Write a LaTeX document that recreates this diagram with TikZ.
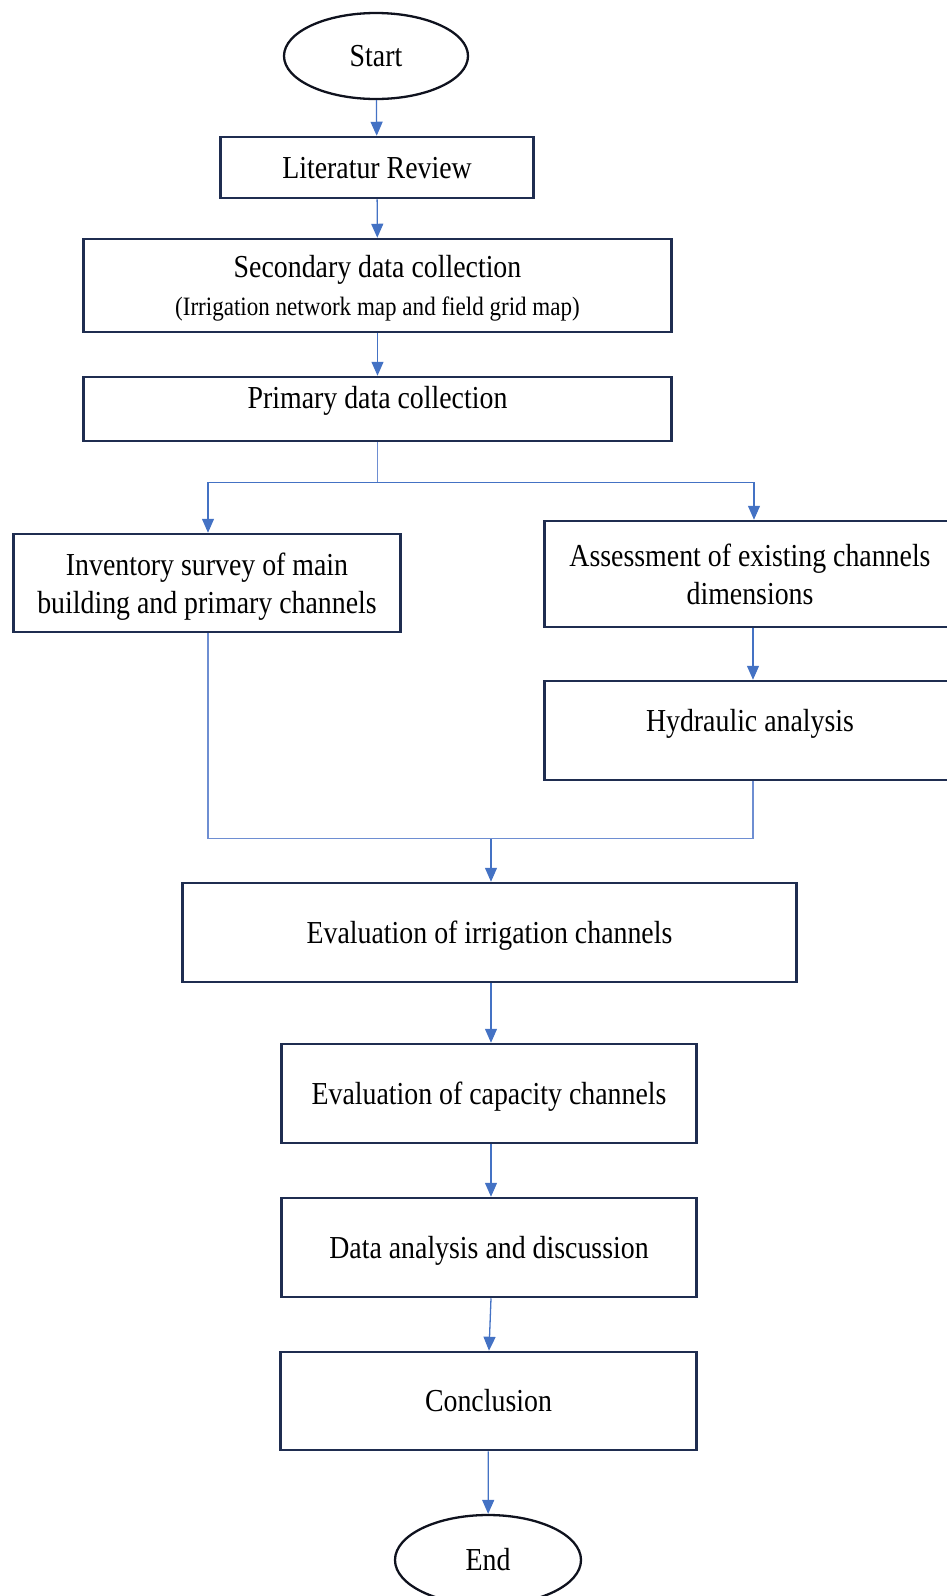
\documentclass[tikz,border=0pt]{standalone}
\usepackage{fontspec}
\setmainfont{Liberation Serif}[FakeStretch=0.87]
\usetikzlibrary{shapes.geometric,arrows.meta,calc}
\definecolor{boxnavy}{RGB}{31,45,80}
\definecolor{arrowblue}{RGB}{68,114,196}
\definecolor{linkblue}{RGB}{110,142,210}
\definecolor{ovalink}{RGB}{15,18,30}
\tikzset{
  stepbox/.style={draw=boxnavy, line width=2.5pt, rectangle, inner sep=0pt, align=center,
    font=\fontsize{32}{38}\selectfont},
  oneline/.style={text height=21.2pt, text depth=0pt},
  twoline/.style={text depth=0pt},
  oval/.style={draw=ovalink, line width=2.3pt, ellipse, inner sep=0pt,
    font=\fontsize{32}{38}\selectfont, text height=21.2pt, text depth=0pt},
  arr/.style={draw=arrowblue, line width=1.3pt, -{Triangle[length=14pt,width=12pt]}},
  conn/.style={draw=linkblue, line width=1.3pt},
}
\begin{document}
\begin{tikzpicture}[x=1pt,y=1pt]
\useasboundingbox (0,0) rectangle (947,-1596);

\node[oval, minimum width=184pt, minimum height=86pt] (start) at (376,-56) {Start};
\node[stepbox, oneline, minimum width=313pt, minimum height=61pt] (lit) at (377,-167.5) {Literatur Review};
\node[stepbox, twoline, minimum width=588pt, minimum height=93pt] (sec) at (377.5,-285.5)
  {Secondary data collection\\{\fontsize{26.5}{38}\selectfont(Irrigation network map and field grid map)}};
\node[stepbox, text height=21.2pt, text depth=22pt, minimum width=588pt, minimum height=64pt] (prim) at (377.5,-409) {Primary data collection};

\node[stepbox, twoline, minimum width=387pt, minimum height=98pt] (inv) at (207,-583)
  {Inventory survey of main\\building and primary channels};
\node[stepbox, twoline, minimum width=411pt, minimum height=106pt] (ass) at (750,-574)
  {Assessment of existing channels\\dimensions};
\node[stepbox, text height=21.2pt, text depth=19pt, minimum width=411pt, minimum height=99pt] (hyd) at (750,-730.5) {Hydraulic analysis};

\node[stepbox, oneline, minimum width=614pt, minimum height=99pt] (eval) at (489.5,-932.5) {Evaluation of irrigation channels};
\node[stepbox, oneline, minimum width=415pt, minimum height=99pt] (cap) at (489,-1093.5) {Evaluation of capacity channels};
\node[stepbox, oneline, minimum width=415pt, minimum height=99pt] (data) at (489,-1247.5) {Data analysis and discussion};
\node[stepbox, oneline, minimum width=416pt, minimum height=98pt] (conc) at (488.5,-1401) {Conclusion};
\node[oval, minimum width=186pt, minimum height=90pt] (end) at (488,-1560) {End};

% main chain
\draw[arr] (start) -- (lit);
\draw[arr] (lit) -- (sec);
\draw[arr] (sec) -- (prim);

% branch
\coordinate (br) at ($(prim.south)+(0,-40)$);
\draw[conn] (prim.south) -- (br);
\draw[arr] (br) -| ($(inv.north)+(1,0)$);
\draw[arr] (br) -| ($(ass.north)+(4,0)$);
\draw[arr] ($(ass.south)+(3,0)$) -- ($(hyd.north)+(3,0)$);

% merge
\coordinate (mg) at ($(eval.north)+(1.5,43)$);
\draw[conn] ($(inv.south)+(1,0)$) |- (mg) -| ($(hyd.south)+(3,0)$);
\draw[arr] (mg) -- ($(eval.north)+(1.5,0)$);

% lower chain
\draw[arr] ($(eval.south)+(1.5,0)$) -- ($(cap.north)+(2,0)$);
\draw[arr] ($(cap.south)+(2,0)$) -- ($(data.north)+(2,0)$);
\draw[arr] ($(data.south)+(2,0)$) -- ($(conc.north)+(0.5,0)$);
\draw[arr] (conc) -- (end);
\end{tikzpicture}
\end{document}
